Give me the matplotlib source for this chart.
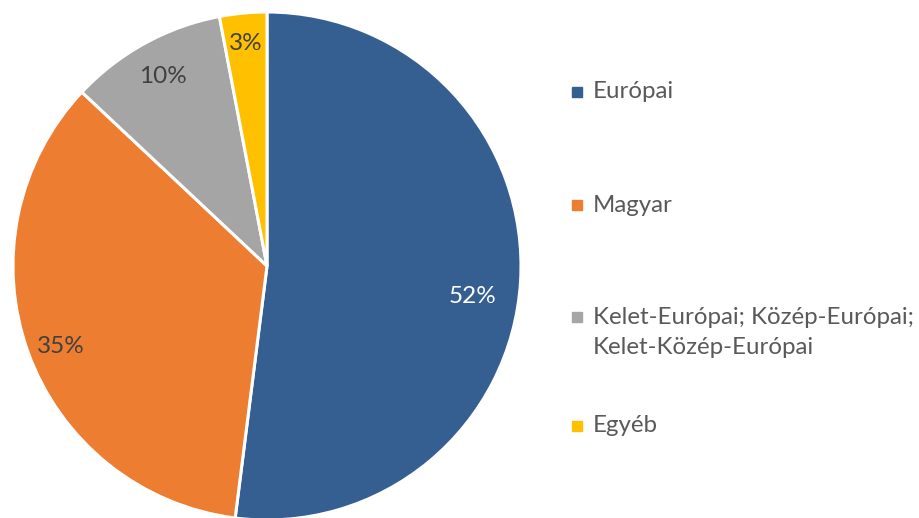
import matplotlib
matplotlib.use("Agg")
import matplotlib.pyplot as plt
import numpy as np

categories = ["Európai", "Magyar", "Kelet-Európai; Közép-Európai;\nKelet-Közép-Európai", "Egyéb"]
values = [52, 35, 10, 3]
colors = ["#365F91", "#ED7D31", "#A5A5A5", "#FFC000"]
label_colors = ["white", "#404040", "#404040", "#404040"]

plt.rcParams['font.family'] = ['Lato', 'DejaVu Sans']

W, H = 920, 518
fig = plt.figure(figsize=(W / 100, H / 100), dpi=100)
cx, cy, r = 267, 266, 254
ax = fig.add_axes([(cx - r) / W, (H - cy - r) / H, 2 * r / W, 2 * r / H])
wedges, _ = ax.pie(values, colors=colors, startangle=90, counterclock=False, radius=1,
                   wedgeprops=dict(edgecolor="white", linewidth=2.2))
ax.set_xlim(-1, 1)
ax.set_ylim(-1, 1)
ax.set_aspect("equal")
ax.axis("off")

# percentage labels (distance from centre, angular nudge in degrees)
dists = [0.82, 0.87, 0.85, 0.88]
nudges = [-4.9, 1.5, 0, 0]
for w, v, d, n, c in zip(wedges, values, dists, nudges, label_colors):
    ang = np.deg2rad((w.theta1 + w.theta2) / 2 + n)
    ax.text(d * np.cos(ang), d * np.sin(ang), f"{v}%", ha="center", va="center",
            fontsize=17.5, color=c)

# legend
legend_y = [92, 205, 317, 426]
for cat, col, y in zip(categories, colors, legend_y):
    fig.patches.append(plt.Rectangle(((577 - 5) / W, (H - y - 5) / H), 10 / W, 10 / H,
                                     transform=fig.transFigure, color=col))
    lines = cat.split("\n")
    for i, ln in enumerate(lines):
        fig.text(593 / W, (H - y - i * 30) / H, ln, ha="left", va="center",
                 fontsize=17.3, color="#595959")

fig.savefig("out.png", dpi=100)
